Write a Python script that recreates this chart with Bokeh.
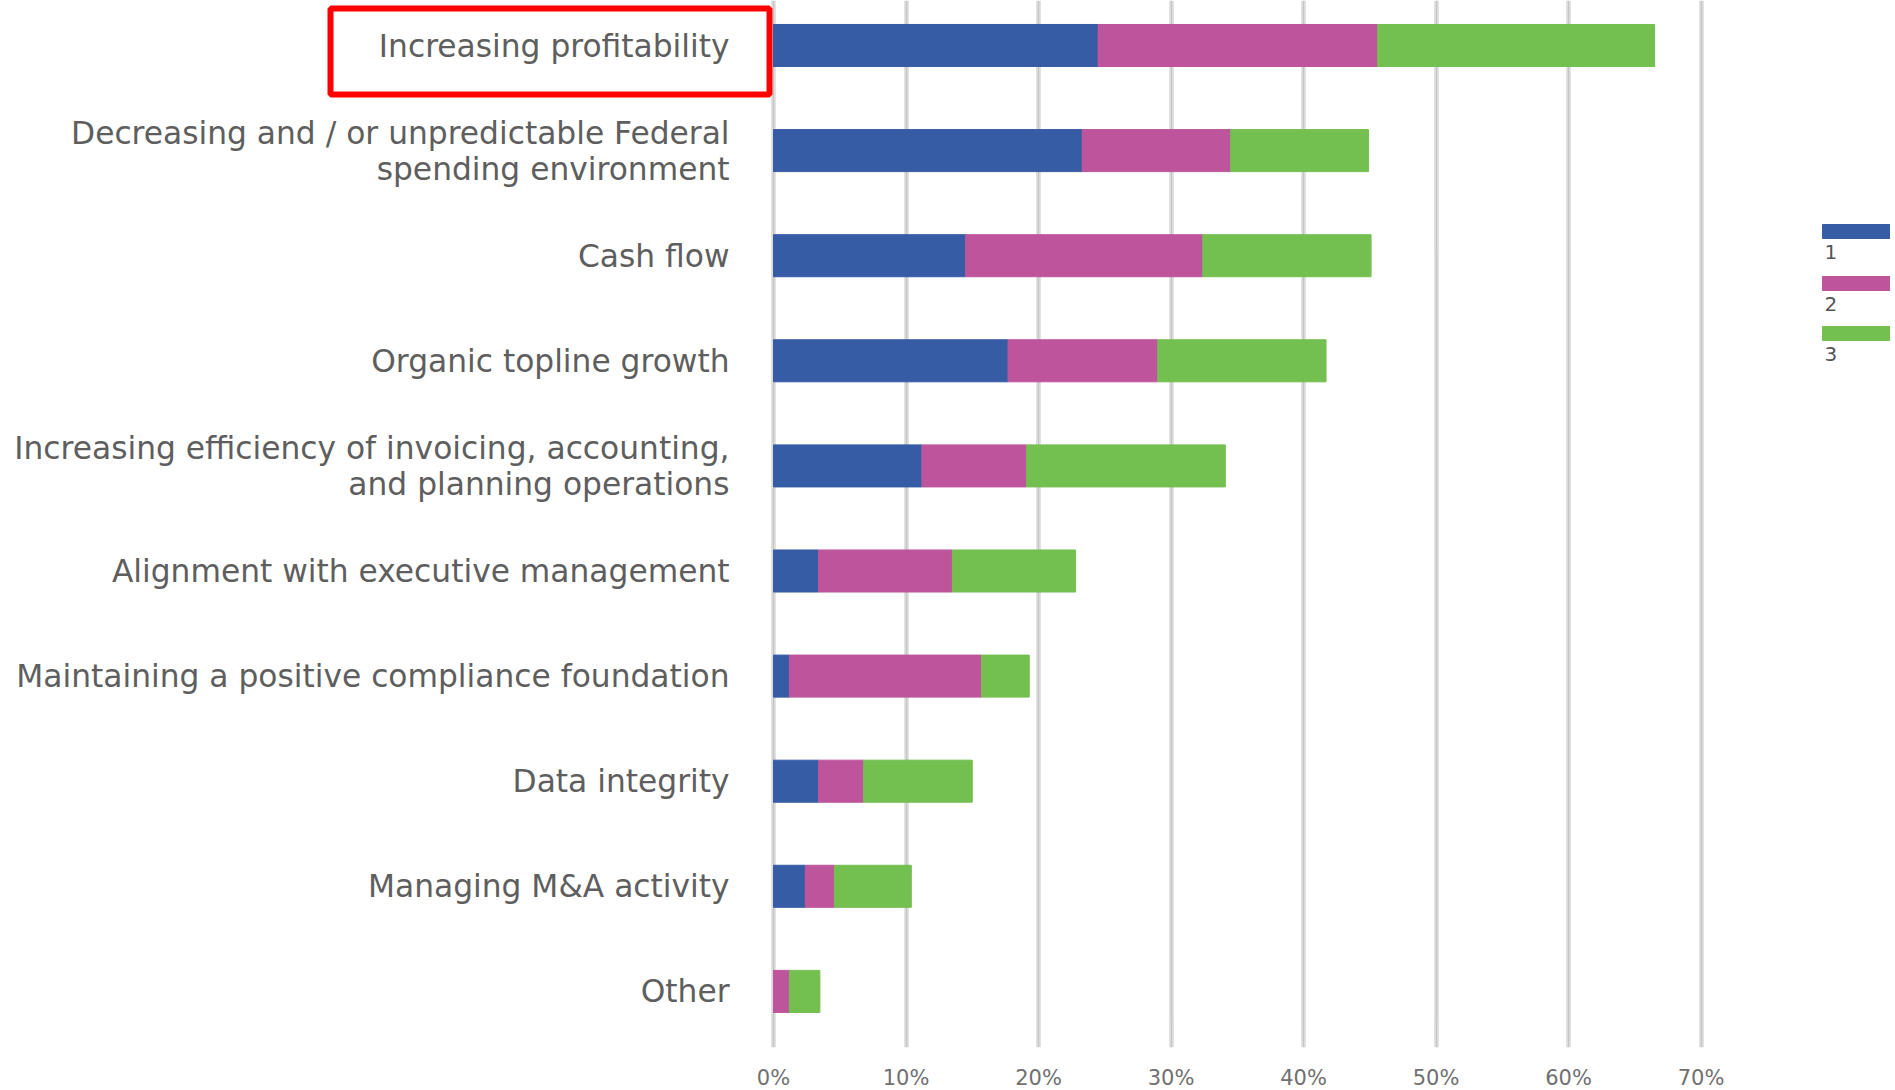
from bokeh.plotting import figure
from bokeh.models import ColumnDataSource, FixedTicker, PrintfTickFormatter, Range1d, Grid
from bokeh.core.properties import value
from bokeh.embed import file_html
from bokeh.resources import INLINE

# ---------------- data ----------------
categories = [
    "Increasing profitability",
    "Decreasing and / or unpredictable Federal\nspending environment",
    "Cash flow",
    "Organic topline growth",
    "Increasing efficiency of invoicing, accounting,\nand planning operations",
    "Alignment with executive management",
    "Maintaining a positive compliance foundation",
    "Data integrity",
    "Managing M&A activity",
    "Other",
]
rank1 = [24.5, 23.3, 14.5, 17.7, 11.2, 3.4, 1.2, 3.4, 2.4, 0.0]
rank2 = [21.1, 11.2, 17.9, 11.3, 7.9, 10.1, 14.5, 3.4, 2.2, 1.2]
rank3 = [20.9, 10.4, 12.7, 12.7, 15.0, 9.3, 3.6, 8.2, 5.8, 2.3]
series_names = ["1", "2", "3"]
tick_values = [0, 10, 20, 30, 40, 50, 60, 70]
highlighted = "Increasing profitability"

# ---------------- style / geometry ----------------
colors = ["#365CA6", "#BE559C", "#73BF50"]
FONT = "DejaVu Sans"
LABEL_COLOR = "#5e5e5e"
FRAME_W, FRAME_H = 1890, 1047
X0_PX = 773.0        # pixel of 0 %
PX_PER_PCT = 13.25
ROW0_PX = 45.0       # centre of first row
ROW_PX = 105.1       # row spacing


def px_x(px):
    return (px - X0_PX) / PX_PER_PCT


def px_y(py):
    return (py - ROW0_PX) / ROW_PX


x_start, x_end = px_x(0), px_x(FRAME_W)
y_top, y_bottom = px_y(0), px_y(FRAME_H)

p = figure(
    frame_width=FRAME_W, frame_height=FRAME_H,
    x_range=Range1d(x_start, x_end), y_range=Range1d(y_bottom, y_top),
    output_backend="svg", toolbar_location=None, y_axis_location=None,
    min_border=0, min_border_left=0, min_border_right=0, min_border_top=0,
    background_fill_color="white", border_fill_color="white",
)
p.outline_line_color = None

# grid
ticker = FixedTicker(ticks=tick_values)
p.xgrid.ticker = ticker
p.xgrid.grid_line_color = "#e2e2e2"
p.xgrid.grid_line_width = 5
p.ygrid.visible = False
p.add_layout(Grid(dimension=0, ticker=ticker, grid_line_color="#c4c4c4", grid_line_width=1.5))

# x axis
ax = p.xaxis[0]
ax.ticker = ticker
ax.formatter = PrintfTickFormatter(format="%d%%")
ax.axis_line_color = None
ax.major_tick_line_color = None
ax.minor_tick_line_color = None
ax.major_label_standoff = 12
ax.major_label_text_font = FONT
ax.major_label_text_font_size = "21px"
ax.major_label_text_color = "#707070"

# bars
ys = list(range(len(categories)))
src = ColumnDataSource(dict(y=ys, label=categories, r1=rank1, r2=rank2, r3=rank3))
p.hbar_stack(["r1", "r2", "r3"], y="y", height=0.4, color=colors, source=src)

# category labels
p.text(x=px_x(729), y="y", text="label", source=src, text_align="right",
       text_baseline="middle", text_font=value(FONT), text_font_size="31.3px",
       text_color=LABEL_COLOR, text_line_height=1.0)

# highlight box
hi = categories.index(highlighted)
p.quad(left=px_x(330), right=px_x(769), top=hi + px_y(8), bottom=hi + px_y(94),
       fill_color=None, line_color="#FF0000", line_width=6)

# legend (swatch above label, at the right edge)
leg_top = [224, 276, 326]
leg_src = ColumnDataSource(dict(
    left=[px_x(1822)] * len(series_names),
    right=[x_end + 5] * len(series_names),
    top=[px_y(t) for t in leg_top],
    bottom=[px_y(t + 14) for t in leg_top],
    ly=[px_y(t + 27) for t in leg_top],
    lx=[px_x(1824)] * len(series_names),
    name=series_names,
    color=colors,
))
p.quad(left="left", right="right", top="top", bottom="bottom", color="color", source=leg_src)
p.text(x="lx", y="ly", text="name", source=leg_src, text_align="left", text_baseline="middle",
       text_font=value(FONT), text_font_size="20px", text_color="#555555")

open("out.html", "w").write(file_html(p, INLINE))
